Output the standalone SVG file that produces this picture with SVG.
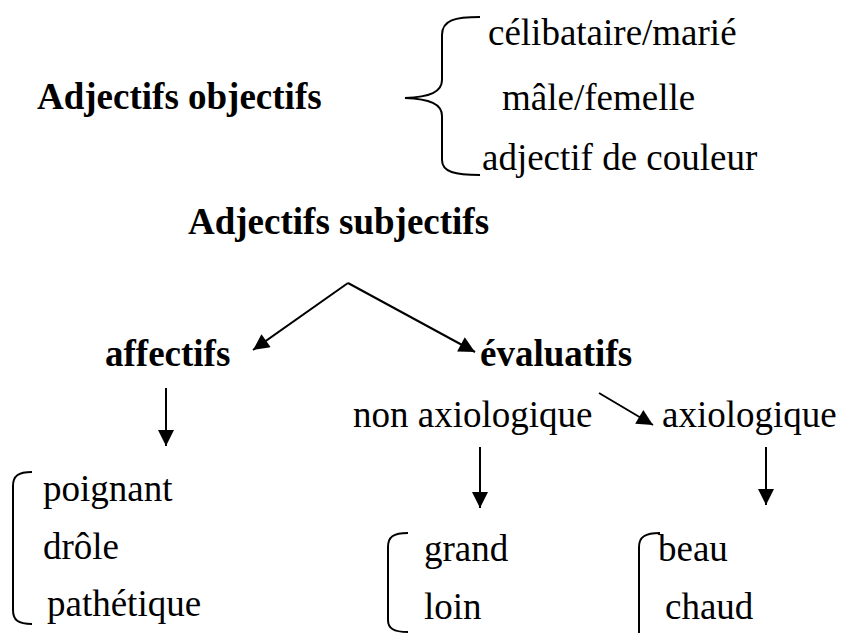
<svg xmlns="http://www.w3.org/2000/svg" width="841" height="633" viewBox="0 0 841 633">
<style>
.t{font-family:"Liberation Serif","Times New Roman",serif;font-size:37px;fill:#000}
.b{font-weight:bold}
.br{fill:none;stroke:#000;stroke-width:2}
.ln{stroke:#000;stroke-width:2;fill:none}
</style>
<defs>
<marker id="ahL" viewBox="0 0 10 10" refX="10" refY="5" markerWidth="18" markerHeight="16" markerUnits="userSpaceOnUse" orient="auto">
<path d="M0,0 L10,5 L0,10 z" fill="#000"/>
</marker>
</defs>
<rect width="841" height="633" fill="#fff"/>
<g id="objectifs">
<text class="t b" x="37" y="109">Adjectifs objectifs</text>
<text class="t" x="488" y="45">célibataire/marié</text>
<text class="t" x="502" y="110">mâle/femelle</text>
<text class="t" x="482" y="170">adjectif de couleur</text>
</g>
<g id="subjectifs">
<text class="t b" x="188" y="234">Adjectifs subjectifs</text>
</g>
<g id="affectifs">
<text class="t b" x="105" y="366">affectifs</text>
</g>
<g id="evaluatifs">
<text class="t b" x="480" y="366">évaluatifs</text>
</g>
<g id="nonaxio">
<text class="t" x="353" y="427">non axiologique</text>
</g>
<g id="axio">
<text class="t" x="662" y="427">axiologique</text>
</g>
<g id="liste-affectifs">
<text class="t" x="43" y="501">poignant</text>
<text class="t" x="43" y="559">drôle</text>
<text class="t" x="47" y="616">pathétique</text>
</g>
<g id="liste-nonaxio">
<text class="t" x="424" y="561">grand</text>
<text class="t" x="424" y="619">loin</text>
</g>
<g id="liste-axio">
<text class="t" x="658" y="561">beau</text>
<text class="t" x="665" y="619">chaud</text>
</g>
<g id="brackets">
<path class="br" d="M480,17 C455,17 442,20 442,35 L442,80 C442,92 430,97 405,98 C430,99 442,104 442,116 L442,160 C442,172 455,175 480,175"/>
<path class="br" d="M32,472 C18,472 13,476 13,486 L13,610 C13,620 18,624 32,624"/>
<path class="br" d="M408,533 C393,533 388,537 388,547 L388,620 C388,628 393,632 408,632"/>
<path class="br" d="M660,533 C645,533 639,537 639,547 L639,633"/>
</g>
<g id="connectors">
<line class="ln" x1="348" y1="283" x2="253" y2="350" marker-end="url(#ahL)"/>
<line class="ln" x1="348" y1="283" x2="475" y2="352" marker-end="url(#ahL)"/>
<line class="ln" x1="166" y1="388" x2="166" y2="446" marker-end="url(#ahL)"/>
<line class="ln" x1="599" y1="393" x2="653" y2="425" marker-end="url(#ahL)"/>
<line class="ln" x1="480" y1="447" x2="480" y2="508" marker-end="url(#ahL)"/>
<line class="ln" x1="766" y1="447" x2="766" y2="505" marker-end="url(#ahL)"/>
</g>
</svg>
